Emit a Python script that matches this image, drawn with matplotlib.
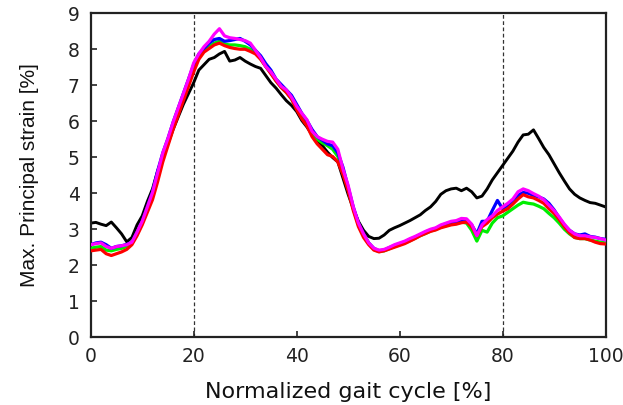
import numpy as np
import matplotlib
matplotlib.use("Agg")
import matplotlib.pyplot as plt

plt.rcParams['font.family'] = ['DejaVu Sans']

gait = list(range(0, 101))

black = [3.15, 3.17, 3.12, 3.08, 3.18, 3.02, 2.85, 2.63, 2.75, 3.10,
         3.35, 3.75, 4.10, 4.60, 5.00, 5.35, 5.75, 6.10, 6.45, 6.75,
         7.05, 7.40, 7.55, 7.70, 7.75, 7.85, 7.92, 7.65, 7.68, 7.75,
         7.65, 7.57, 7.50, 7.45, 7.25, 7.05, 6.90, 6.72, 6.55, 6.42,
         6.25, 6.00, 5.82, 5.60, 5.40, 5.30, 5.12, 4.97, 4.85, 4.40,
         3.95, 3.55, 3.20, 2.95, 2.78, 2.72, 2.73, 2.82, 2.95, 3.02,
         3.08, 3.15, 3.22, 3.30, 3.38, 3.50, 3.60, 3.75, 3.95, 4.05,
         4.10, 4.12, 4.05, 4.12, 4.02, 3.85, 3.90, 4.10, 4.35, 4.55,
         4.75, 4.95, 5.15, 5.40, 5.60, 5.62, 5.74, 5.50, 5.25, 5.05,
         4.80, 4.55, 4.32, 4.10, 3.95, 3.85, 3.78, 3.72, 3.70, 3.65,
         3.60]

magenta = [2.55, 2.58, 2.60, 2.50, 2.45, 2.50, 2.52, 2.55, 2.62, 2.90,
           3.20, 3.60, 4.00, 4.55, 5.10, 5.50, 5.95, 6.35, 6.75, 7.15,
           7.60, 7.85, 8.05, 8.20, 8.40, 8.55, 8.35, 8.30, 8.28, 8.25,
           8.22, 8.15, 7.95, 7.75, 7.50, 7.35, 7.15, 6.95, 6.85, 6.65,
           6.40, 6.20, 6.02, 5.70, 5.55, 5.48, 5.42, 5.40, 5.20, 4.65,
           4.20, 3.60, 3.15, 2.85, 2.60, 2.45, 2.40, 2.42, 2.48, 2.55,
           2.60, 2.65, 2.72, 2.78, 2.85, 2.92, 2.98, 3.02, 3.10, 3.15,
           3.20, 3.22, 3.28, 3.27, 3.12, 2.80, 3.10, 3.25, 3.35, 3.50,
           3.60, 3.70, 3.82, 4.02, 4.10, 4.05, 3.97, 3.90, 3.80, 3.65,
           3.50, 3.32, 3.12, 2.95, 2.85, 2.80, 2.80, 2.77, 2.75, 2.72,
           2.68]

blue = [2.55, 2.60, 2.62, 2.55, 2.45, 2.50, 2.52, 2.56, 2.62, 2.90,
        3.20, 3.60, 4.02, 4.60, 5.10, 5.50, 5.95, 6.35, 6.75, 7.15,
        7.55, 7.85, 8.00, 8.15, 8.25, 8.28, 8.20, 8.22, 8.25, 8.28,
        8.20, 8.10, 7.95, 7.80, 7.58, 7.40, 7.15, 7.00, 6.85, 6.70,
        6.45, 6.20, 6.00, 5.75, 5.55, 5.45, 5.35, 5.30, 5.10, 4.70,
        4.15, 3.60, 3.15, 2.85, 2.60, 2.45, 2.38, 2.40, 2.47, 2.53,
        2.58, 2.63, 2.70, 2.76, 2.83, 2.90, 2.96, 3.00, 3.08, 3.13,
        3.16, 3.18, 3.22, 3.22, 3.10, 2.85, 3.20, 3.20, 3.50, 3.78,
        3.55, 3.65, 3.78, 3.92, 4.00, 3.98, 3.92, 3.88, 3.82, 3.70,
        3.52, 3.30, 3.10, 2.95, 2.85, 2.82, 2.85, 2.78, 2.76, 2.72,
        2.70]

red = [2.38, 2.40, 2.42, 2.30, 2.25, 2.30, 2.35, 2.42, 2.55, 2.80,
       3.10, 3.45, 3.80, 4.30, 4.85, 5.30, 5.75, 6.15, 6.55, 6.95,
       7.35, 7.70, 7.90, 8.00, 8.10, 8.15, 8.08, 8.03, 8.00, 7.98,
       7.98, 7.92, 7.85, 7.70, 7.50, 7.30, 7.10, 6.92, 6.78, 6.60,
       6.30, 6.05, 5.85, 5.55, 5.35, 5.20, 5.05, 5.00, 4.85, 4.50,
       4.05, 3.50, 3.05, 2.75, 2.55, 2.40, 2.35, 2.38, 2.43, 2.48,
       2.53, 2.58, 2.65, 2.72, 2.80, 2.86, 2.92, 2.96, 3.02, 3.06,
       3.10, 3.12, 3.16, 3.18, 3.05, 2.80, 3.05, 3.15, 3.30, 3.40,
       3.48, 3.55, 3.68, 3.82, 3.94, 3.88, 3.85, 3.78, 3.70, 3.55,
       3.42, 3.25, 3.05, 2.88, 2.75, 2.72, 2.72, 2.68, 2.62, 2.58,
       2.57]

green = [2.45, 2.48, 2.50, 2.40, 2.38, 2.42, 2.45, 2.50, 2.60, 2.85,
         3.15, 3.55, 3.95, 4.50, 5.00, 5.45, 5.90, 6.30, 6.70, 7.10,
         7.50, 7.80, 7.95, 8.05, 8.15, 8.20, 8.12, 8.10, 8.10, 8.08,
         8.05, 7.98, 7.88, 7.72, 7.50, 7.32, 7.10, 6.92, 6.78, 6.60,
         6.35, 6.12, 5.95, 5.65, 5.48, 5.38, 5.30, 5.20, 5.00, 4.60,
         4.10, 3.55, 3.10, 2.80, 2.58, 2.42, 2.36, 2.38, 2.44, 2.50,
         2.55, 2.60, 2.66, 2.73, 2.80, 2.86, 2.93, 2.97, 3.04, 3.08,
         3.12, 3.14, 3.18, 3.15, 2.95, 2.65, 2.95, 2.90, 3.15, 3.30,
         3.35, 3.45, 3.55, 3.65, 3.73, 3.70, 3.68, 3.62, 3.55, 3.42,
         3.30, 3.15, 2.98, 2.85, 2.75, 2.72, 2.72, 2.68, 2.65, 2.62,
         2.60]

phase_lines = [20, 80]
xticks = [0, 20, 40, 60, 80, 100]
yticks = list(range(0, 10))

fig = plt.figure(figsize=(6.23, 4.06), dpi=100)
ax = fig.add_axes([0.1456, 0.1687, 0.8264, 0.7980])

for xv in phase_lines:
    ax.axvline(xv, color='#333333', lw=0.9, ls=(0, (3, 2)), zorder=1)

ax.plot(gait, black, color='black', lw=2.1, zorder=2)
ax.plot(gait, green, color='#00ee00', lw=2.3, zorder=3)
ax.plot(gait, blue, color='#0000ff', lw=2.3, zorder=4)
ax.plot(gait, red, color='#ff0000', lw=2.3, zorder=5)
ax.plot(gait, magenta, color='#ff00ff', lw=2.3, zorder=6)

ax.set_xlim(0, 100)
ax.set_ylim(0, 9)
ax.set_xticks(xticks)
ax.set_yticks(yticks)
ax.tick_params(direction='in', length=4, width=1.2, labelsize=13.5,
               top=False, right=False, colors='#222222')
ax.tick_params(axis='x', pad=7)
ax.tick_params(axis='y', pad=8)
for s in ax.spines.values():
    s.set_linewidth(1.6)
    s.set_color('#222222')

ax.set_xlabel('Normalized gait cycle [%]', fontsize=16, color='#111111')
ax.xaxis.set_label_coords(0.4996, -0.137)
ax.set_ylabel('Max. Principal strain [%]', fontsize=15, color='#111111',
              family=['Liberation Sans', 'DejaVu Sans'])
ax.yaxis.set_label_coords(-0.100, 0.5)

fig.savefig('out.png', dpi=100)
